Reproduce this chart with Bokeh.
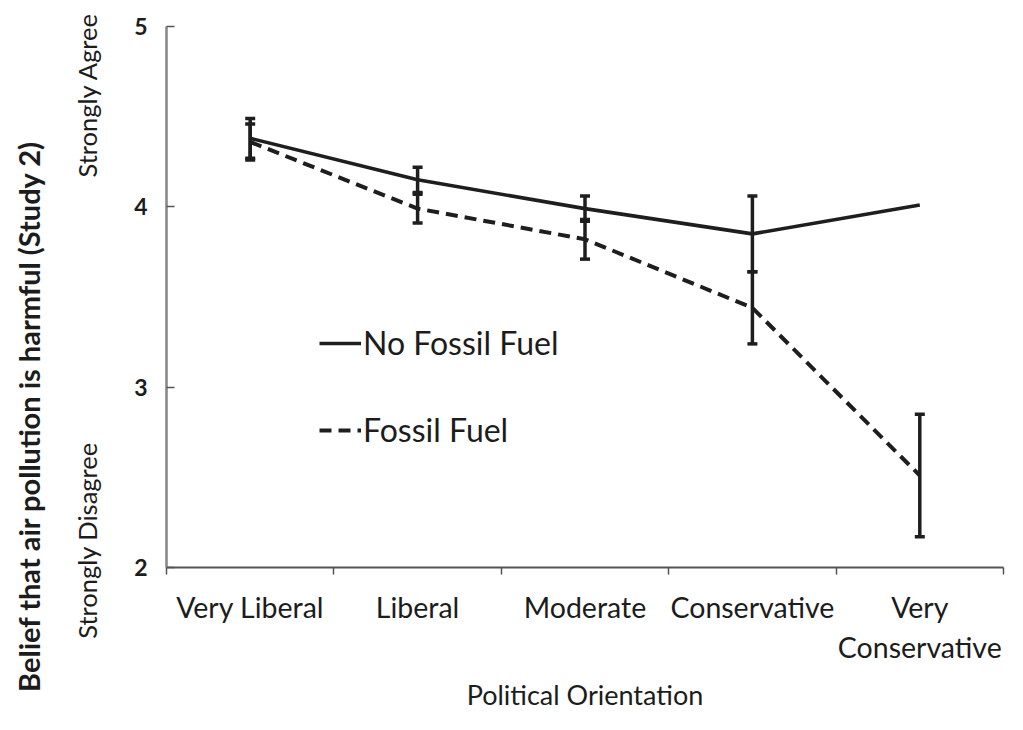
import math
from bokeh.plotting import figure
from bokeh.models import (Range1d, FixedTicker, LinearAxis, Legend, LegendItem,
                          Whisker, ColumnDataSource, TeeHead)
from bokeh.embed import file_html
from bokeh.resources import INLINE

# ---- data ----
categories = ["Very Liberal", "Liberal", "Moderate", "Conservative", "Very\nConservative"]
no_fossil = [4.38, 4.15, 3.99, 3.85, 4.01]
no_fossil_err = [0.11, 0.07, 0.07, 0.21, None]
fossil = [4.36, 3.99, 3.82, 3.44, 2.51]
fossil_err = [0.10, 0.08, 0.11, 0.20, 0.34]
y_ticks = [2, 3, 4, 5]
anchor_names = ["Strongly Disagree", "Strongly Agree"]
anchor_values = [2.15, 4.62]
y_title = "Belief that air pollution is harmful (Study 2)"
y_title_at = 2.84

FONT = "Lato"
TXT = "#1c1c1c"
LINE = "#1e1e1e"

xc = [i + 0.5 for i in range(len(categories))]

p = figure(width=1007, height=714, output_backend="svg", toolbar_location=None,
           x_range=Range1d(0, len(categories)), y_range=Range1d(2, 5),
           min_border_left=166, min_border_right=4, min_border_top=26, min_border_bottom=120)
p.outline_line_color = None
p.grid.visible = False
p.background_fill_color = "white"
p.border_fill_color = "white"

# lines
r_nf = p.line(xc, no_fossil, line_color=LINE, line_width=3.6)
r_f = p.line(xc, fossil, line_color=LINE, line_width=4, line_dash="12 7")

# error bars
def whisk(vals, errs):
    xs, lo, hi = [], [], []
    for x, v, e in zip(xc, vals, errs):
        if e is None:
            continue
        xs.append(x); lo.append(v - e); hi.append(v + e)
    src = ColumnDataSource(dict(x=xs, lower=lo, upper=hi))
    w = Whisker(source=src, base="x", lower="lower", upper="upper", dimension="height",
                line_color=LINE, line_width=3.5,
                upper_head=TeeHead(size=10, line_width=3.5, line_color=LINE),
                lower_head=TeeHead(size=10, line_width=3.5, line_color=LINE))
    p.add_layout(w)

whisk(no_fossil, no_fossil_err)
whisk(fossil, fossil_err)

# x axis
xa = p.xaxis[0]
xa.ticker = FixedTicker(ticks=xc, minor_ticks=list(range(len(categories) + 1)))
xa.major_label_overrides = {x: c for x, c in zip(xc, categories)}
xa.major_tick_out = 0
xa.major_tick_in = 0
xa.minor_tick_out = 7
xa.minor_tick_in = 0
xa.minor_tick_line_color = "#555555"
xa.minor_tick_line_width = 1.5
xa.axis_line_color = "#555555"
xa.axis_line_width = 2
xa.major_label_standoff = 15
xa.major_label_text_font = FONT
xa.major_label_text_font_size = "28.5px"
xa.major_label_text_color = TXT
xa.axis_label = "Political Orientation"
xa.axis_label_text_font = FONT
xa.axis_label_text_font_style = "normal"
xa.axis_label_text_font_size = "27px"
xa.axis_label_text_color = TXT
xa.axis_label_standoff = 11

# y axis (numbers)
ya = p.yaxis[0]
ya.ticker = FixedTicker(ticks=y_ticks, minor_ticks=[])
ya.major_tick_in = 8
ya.major_tick_out = 0
ya.major_tick_line_color = "#555555"
ya.major_tick_line_width = 1.5
ya.axis_line_color = "#858585"
ya.axis_line_width = 2.5
ya.major_label_standoff = 19
ya.major_label_text_font = FONT
ya.major_label_text_font_style = "bold"
ya.major_label_text_font_size = "23px"
ya.major_label_text_color = TXT

# y axis (anchors)
ya2 = LinearAxis(ticker=FixedTicker(ticks=anchor_values, minor_ticks=[]),
                 major_label_overrides={v: n for v, n in zip(anchor_values, anchor_names)},
                 major_label_orientation="vertical")
ya2.axis_line_color = None
ya2.major_tick_line_color = None
ya2.minor_tick_line_color = None
ya2.major_tick_out = 0
ya2.major_tick_in = 0
ya2.major_label_standoff = 29
ya2.major_label_text_font = FONT
ya2.major_label_text_font_size = "25.5px"
ya2.major_label_text_color = TXT
p.add_layout(ya2, "left")

# y title as outermost axis
ya3 = LinearAxis(ticker=FixedTicker(ticks=[y_title_at], minor_ticks=[]),
                 major_label_overrides={y_title_at: y_title},
                 major_label_orientation="vertical")
ya3.axis_line_color = None
ya3.major_tick_line_color = None
ya3.minor_tick_line_color = None
ya3.major_tick_out = 0
ya3.major_tick_in = 0
ya3.major_label_standoff = 23
ya3.major_label_text_font = FONT
ya3.major_label_text_font_style = "bold"
ya3.major_label_text_font_size = "29px"
ya3.major_label_text_color = TXT
p.add_layout(ya3, "left")

# legend
legend = Legend(items=[LegendItem(label="No Fossil Fuel", renderers=[r_nf]),
                       LegendItem(label="Fossil Fuel", renderers=[r_f])],
                location=(153, 118), orientation="vertical",
                glyph_width=42, glyph_height=36, label_height=36, label_standoff=2,
                spacing=48, padding=0, margin=0,
                border_line_color=None, background_fill_alpha=0,
                label_text_font=FONT, label_text_font_size="32px", label_text_color=TXT)
p.add_layout(legend)

open("out.html", "w").write(file_html(p, INLINE))
